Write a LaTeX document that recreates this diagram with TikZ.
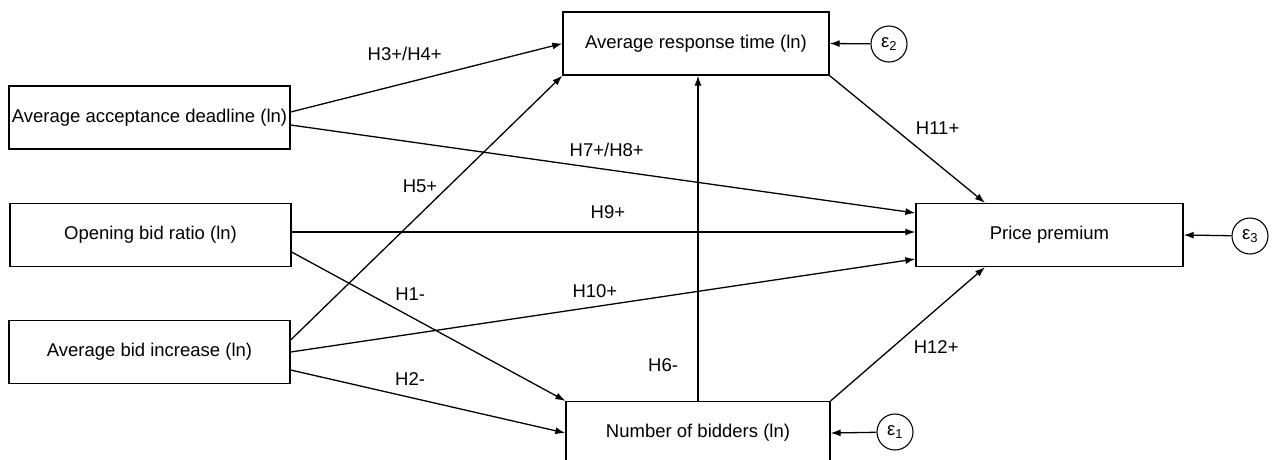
\documentclass[tikz,border=0pt]{standalone}
\usepackage{fontspec}
\setmainfont{Liberation Sans}
\usepackage{tikz}
\usetikzlibrary{arrows.meta}
\tikzset{
  var/.style={draw, line width=1.3pt, minimum width=281pt, minimum height=63pt, inner sep=0pt},
  err/.style={draw, circle, line width=1.1pt, minimum size=36pt, inner sep=0pt},
  link/.style={-{Latex[length=10pt,width=7pt]}, line width=1.3pt}
}
\begin{document}
\begin{tikzpicture}[x=1pt, y=-1pt, font=\fontsize{18.5}{22}\selectfont]
        \useasboundingbox (0,0) rectangle (1274,459);
        \node[var] (deadline) at (149.5,117.5) {Average acceptance deadline (ln)};
        \node[var] (opening) at (150.5,235) {Opening bid ratio (ln)};
        \node[var] (increase) at (149.5,352) {Average bid increase (ln)};
        \node[var, minimum width=266pt] (response) at (696,43.5) {Average response time (ln)};
        \node[var, minimum width=264pt] (bidders) at (698,433) {Number of bidders (ln)};
        \node[var, minimum width=267pt] (premium) at (1049.5,235) {Price premium};
        \node[err] (e2) at (889,44) {ε\textsubscript{2}};
        \node[err] (e3) at (1250,236) {ε\textsubscript{3}};
        \node[err] (e1) at (895,432) {ε\textsubscript{1}};
        \draw[link] ([yshift=5.5pt]deadline.east) -- node[pos=0.42, above=19pt] {H3+/H4+} (response.west);
        \draw[link] ([yshift=-7.5pt]deadline.east) -- node[pos=0.506, above=9pt] {H7+/H8+} ([yshift=22pt]premium.west);
        \draw[link] ([yshift=3pt]opening.east) -- node[pos=0.507, above=9pt] {H9+} ([yshift=3pt]premium.west);
        \draw[link] ([yshift=-17pt]opening.east) -- node[pos=0.433, above=12pt] {H1-} (bidders.north west);
        \draw[link] ([yshift=12pt]increase.east) -- node[pos=0.476, above=18pt] {H5+} (response.south west);
        \draw[link] (increase.east) -- node[pos=0.487, above=5pt] {H10+} ([yshift=-24pt]premium.west);
        \draw[link] ([yshift=-18pt]increase.east) -- node[pos=0.435, above=8pt] {H2-} (bidders.west);
        \draw[link] (bidders.north) -- node[pos=0.11, left=16pt] {H6-} (bidders.north |- response.south);
        \draw[link] (response.south east) -- node[pos=0.414, right=18pt] {H11+} ([xshift=-64.5pt]premium.north);
        \draw[link] (bidders.north east) -- node[pos=0.403, right=17pt] {H12+} ([xshift=-64.5pt]premium.south);
        \draw[link] (e2) -- (response.east);
        \draw[link] (e3) -- (premium.east);
        \draw[link] (e1) -- (bidders.east);
    \end{tikzpicture}
\end{document}
